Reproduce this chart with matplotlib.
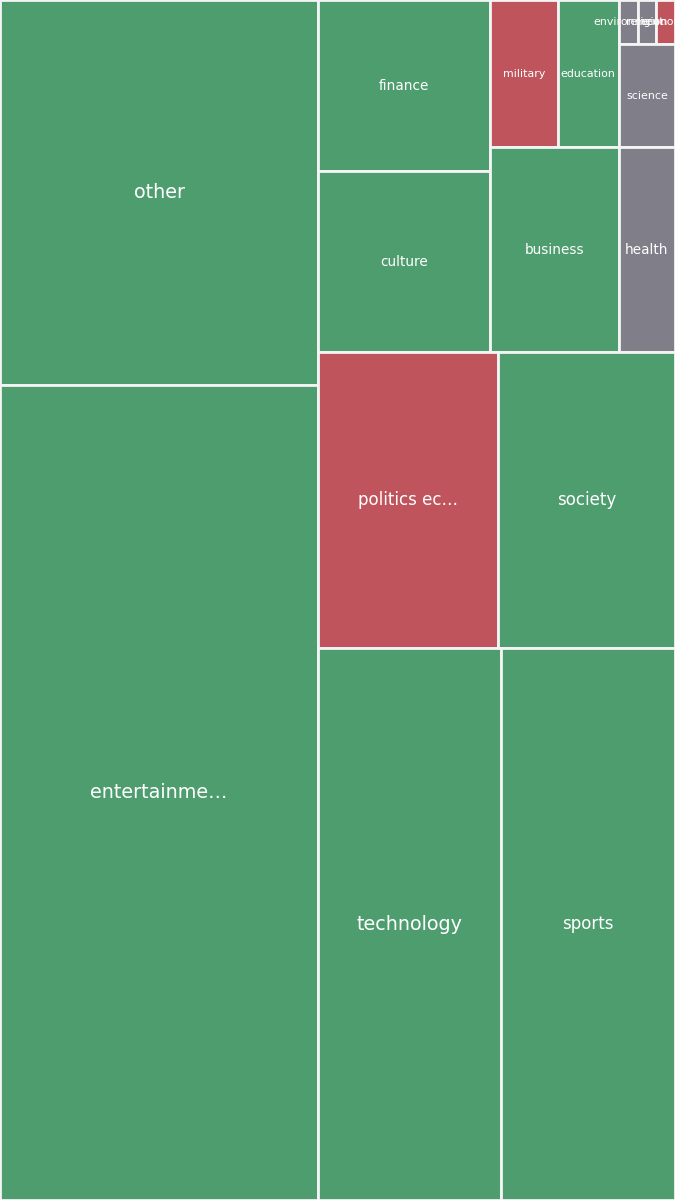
import matplotlib
matplotlib.use("Agg")
import matplotlib.pyplot as plt
from matplotlib.patches import Rectangle

# data: topic counts and their tone
labels = ["other", "entertainment", "finance", "culture", "military", "education",
          "environment", "religion", "economy", "science", "business", "health",
          "politics economy", "society", "technology", "sports"]
values = [1224, 2592, 294, 311, 100, 90, 8.4, 7.9, 8.4, 58, 264, 115, 533, 524, 1010, 960]
tone = ["pos", "pos", "pos", "pos", "neg", "pos",
        "neu", "neu", "neg", "neu", "pos", "neu",
        "neg", "pos", "pos", "pos"]

colors = {"pos": "#4e9d6f", "neg": "#c0545c", "neu": "#7f7e89"}

# nested split layout (h = side by side, v = stacked), leaves are indices into the lists
layout = ("h", [("v", [0, 1]),
                ("v", [("h", [("v", [2, 3]),
                              ("v", [("h", [4, 5, ("v", [("h", [6, 7, 8]), 9])]),
                                     ("h", [10, 11])])]),
                       ("h", [12, 13]),
                       ("h", [14, 15])])])


def total(node):
    if isinstance(node, int):
        return values[node]
    return sum(total(c) for c in node[1])


def place(node, x, y, w, h, out):
    if isinstance(node, int):
        out.append((node, x, y, w, h))
        return
    d, kids = node
    s = total(node)
    pos = 0.0
    for k in kids:
        f = total(k) / s
        if d == "h":
            place(k, x + pos * w, y, f * w, h, out)
        else:
            place(k, x, y + pos * h, w, f * h, out)
        pos += f


def short(t):
    return t if len(t) <= 11 else t[:11] + "…"


def fsize(frac):
    if frac > 0.122:
        return 13.8
    if frac > 0.06:
        return 12
    if frac > 0.014:
        return 9.8
    return 7.9


fig = plt.figure(figsize=(6.91, 12), dpi=100)
ax = fig.add_axes([0, 0, 675 / 691, 1])
ax.set_xlim(0, 1)
ax.set_ylim(1, 0)
ax.axis("off")

rects = []
place(layout, 0, 0, 1, 1, rects)
grand = total(layout)
for i, x, y, w, h in rects:
    ax.add_patch(Rectangle((x, y), w, h, facecolor=colors[tone[i]],
                           edgecolor="#f4f4f4", linewidth=2))
    ax.text(x + w / 2, y + h / 2, short(labels[i]), color="white",
            ha="center", va="center", fontsize=fsize(values[i] / grand),
            clip_on=True)

fig.savefig("out.png", dpi=100)
